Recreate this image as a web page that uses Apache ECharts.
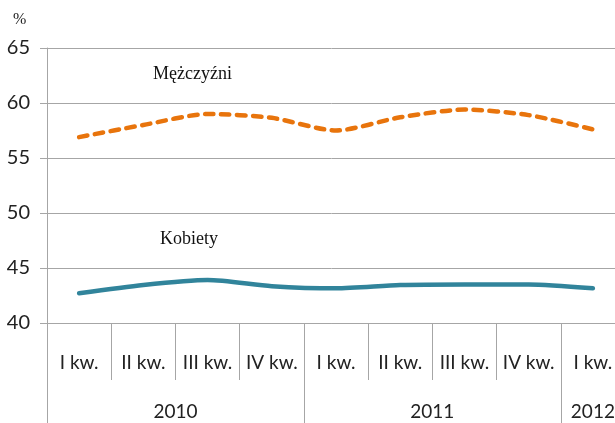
<!DOCTYPE html>
<html><head><meta charset="utf-8">
<script src="https://cdn.jsdelivr.net/npm/echarts@6/dist/echarts.min.js"></script>
<style>html,body{margin:0;padding:0;background:#fff}#c{width:615px;height:423px}</style>
</head><body><div id="c"></div>
<script>
const quarters = ['I kw.','II kw.','III kw.','IV kw.','I kw.','II kw.','III kw.','IV kw.','I kw.'];
const years = ['2010','2011','2012'];
const quartersPerYear = [4,4,1];
const men = [56.9, 58.0, 59.0, 58.65, 57.5, 58.7, 59.4, 58.9, 57.6];
const women = [42.7, 43.45, 43.9, 43.35, 43.15, 43.45, 43.5, 43.5, 43.15];
const yTicks = {min:40, max:65, step:5};

const yearStarts = [], yearCenters = [];
let acc = 0;
quartersPerYear.forEach(n => { yearStarts.push(acc); yearCenters.push(acc + n/2); acc += n; });

const gray = '#a6a6a6';
const chart = echarts.init(document.getElementById('c'));
chart.setOption({
  animation:false,
  grid:{left:47, top:48, bottom:100, width:578, containLabel:false, outerBoundsMode:'none'},
  xAxis:[{
    type:'category', data:quarters, boundaryGap:true,
    axisLine:{show:true, lineStyle:{color:gray, width:1}},
    axisTick:{show:true, interval:0, length:57, lineStyle:{color:gray}},
    axisLabel:{interval:0, margin:30, fontFamily:'Lato', fontSize:19, color:'#222'}
  },{
    type:'value', min:0, max:acc, position:'bottom',
    axisLine:{show:false}, splitLine:{show:false},
    axisTick:{show:true, customValues:yearStarts, length:110, lineStyle:{color:gray}},
    axisLabel:{customValues:yearCenters, margin:79, fontFamily:'Lato', fontSize:19, color:'#222',
      formatter:(v)=>{const i=yearCenters.indexOf(v); return i>=0?years[i]:'';}}
  }],
  yAxis:{
    type:'value', min:yTicks.min, max:yTicks.max, interval:yTicks.step,
    axisLine:{show:true, lineStyle:{color:gray}},
    axisTick:{show:true, length:7, lineStyle:{color:gray}},
    splitLine:{show:true, lineStyle:{color:gray, width:1}},
    axisLabel:{margin:17, fontFamily:'Lato', fontSize:20, color:'#222'}
  },
  graphic:[
    {type:'text', left:13, top:12, style:{text:'%', font:'16px "Liberation Serif"', fill:'#222'}},
    {type:'text', left:153, top:65, style:{text:'Mężczyźni', font:'18px "Liberation Serif"', fill:'#111'}},
    {type:'text', left:160, top:230, style:{text:'Kobiety', font:'18px "Liberation Serif"', fill:'#111'}}
  ],
  series:[
    {name:'Mężczyźni', type:'line', xAxisIndex:0, data:men, smooth:0.25, symbol:'none',
     lineStyle:{color:'#e8740c', width:4.5, type:[8.5,7.5], cap:'round'}},
    {name:'Kobiety', type:'line', xAxisIndex:0, data:women, smooth:0.25, symbol:'none',
     lineStyle:{color:'#31849b', width:4.5, cap:'round'}}
  ]
});
</script></body></html>
